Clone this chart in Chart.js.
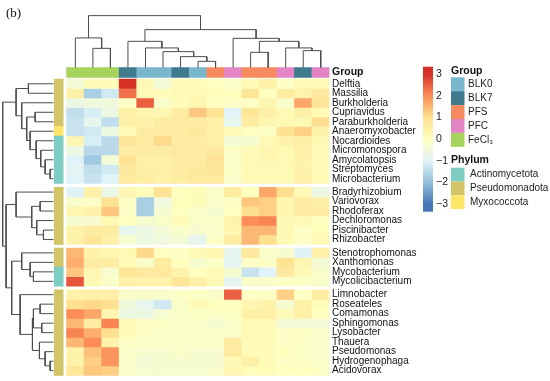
<!DOCTYPE html>
<html>
<head>
<meta charset="utf-8">
<script src="https://cdn.jsdelivr.net/npm/chart.js@4.4.0/dist/chart.umd.min.js"></script>
<style>
  html, body { margin: 0; padding: 0; background: #fff; }
</style>
</head>
<body>
<canvas id="heatmap" width="550" height="381"></canvas>
<script>
const FONT = '"Liberation Sans", Arial, sans-serif';

// rows (genera) in display order, split in 4 clusters
const genera = [
  'Delftia', 'Massilia', 'Burkholderia', 'Cupriavidus', 'Paraburkholderia', 'Anaeromyxobacter',
  'Nocardioides', 'Micromonospora', 'Amycolatopsis', 'Streptomyces', 'Microbacterium',
  'Bradyrhizobium', 'Variovorax', 'Rhodoferax', 'Dechloromonas', 'Piscinibacter', 'Rhizobacter',
  'Stenotrophomonas', 'Xanthomonas', 'Mycobacterium', 'Mycolicibacterium',
  'Limnobacter', 'Roseateles', 'Comamonas', 'Sphingomonas', 'Lysobacter', 'Thauera',
  'Pseudomonas', 'Hydrogenophaga', 'Acidovorax'
];
const blockSizes = [11, 6, 4, 9];

// A = Actinomycetota, P = Pseudomonadota, M = Myxococcota
const rowPhylum = [
  'P', 'P', 'P', 'P', 'P', 'M', 'A', 'A', 'A', 'A', 'A',
  'P', 'P', 'P', 'P', 'P', 'P',
  'P', 'P', 'A', 'A',
  'P', 'P', 'P', 'P', 'P', 'P', 'P', 'P', 'P'
];

// columns (samples) in display order
const sampleGroups = [
  'FeCl3', 'FeCl3', 'FeCl3', 'BLK7', 'BLK0', 'BLK0', 'BLK7', 'BLK0',
  'PFS', 'PFC', 'PFS', 'PFS', 'PFC', 'BLK7', 'PFC'
];

// scaled abundance (z-score), one array per genus
const heat = [
  [-0.4, 0.1, 0.1, 3.3, 0.2, -0.4, 0.2, 0.1, 0.0, -0.2, 0.2, 0.5, -0.1, 0.2, 0.2],
  [0.5, -1.7, -1.2, 2.3, 0.2, 0.1, 0.2, 0.2, 0.1, 0.0, 0.8, 0.0, 0.6, 0.4, 0.7],
  [-0.6, -0.5, -0.5, -0.1, 2.5, -0.2, 0.1, 0.3, 0.0, -0.1, -0.1, 0.3, -0.2, 1.7, 0.8],
  [-1.4, -1.1, -0.6, 0.5, 0.3, 0.3, 0.6, 1.3, 0.9, -1.0, 0.8, 0.5, 0.2, 0.5, 0.2],
  [-1.3, -0.8, -1.4, 0.5, 0.4, 0.6, 0.7, 0.6, 0.5, -0.8, 0.6, 0.3, 0.2, 0.2, 1.0],
  [-1.3, -1.2, -0.6, 0.2, 0.6, 0.6, 0.6, 0.7, 0.5, 0.1, 0.0, -0.1, 0.9, 1.2, 0.4],
  [0.3, -1.1, -1.5, 0.9, 0.6, 1.1, 0.6, 0.6, 0.5, -0.4, -0.3, 0.2, 0.4, 0.5, 0.2],
  [-0.6, -1.5, -1.5, 0.6, 0.6, 0.6, 0.7, 0.6, 0.7, -0.1, 0.1, 0.3, 0.2, 0.5, 0.1],
  [-1.0, -1.8, -0.4, 0.9, 0.5, 0.5, 0.6, 0.6, 0.9, -0.2, 0.2, 0.3, 0.2, 0.4, 0.2],
  [-0.9, -1.4, -1.2, 0.7, 0.5, 0.5, 0.6, 0.7, 0.8, -0.1, 0.2, 0.2, 0.2, 0.4, 0.1],
  [-1.0, -1.3, -1.0, 0.7, 0.6, 0.5, 0.6, 0.7, 0.7, -0.2, 0.2, 0.2, 0.2, 0.5, 0.2],
  [-1.0, 0.5, -0.7, 0.3, 0.1, 0.9, 0.0, 0.1, -0.2, 0.6, 0.0, 1.7, 1.0, 0.2, -0.6],
  [-0.2, -0.1, 0.9, -0.1, -1.7, -0.5, 0.1, 0.1, -0.2, -0.1, 1.3, 1.2, 0.3, 0.6, 0.5],
  [0.3, 0.4, 1.3, -0.1, -1.7, -0.3, 0.0, -0.2, -0.3, 0.0, 1.0, 1.2, 0.3, 0.6, 0.6],
  [-0.3, -0.3, 0.2, 0.0, -0.3, -0.2, 0.1, -0.2, -0.2, 0.4, 2.0, 2.1, 0.2, 0.2, 0.0],
  [0.4, 0.6, 0.6, -0.8, -0.6, -0.4, -0.2, -0.3, -0.2, 0.3, 1.5, 1.5, 0.2, -0.1, 0.1],
  [0.4, 0.8, 0.5, -0.3, -0.6, -0.5, -0.4, -0.8, -0.1, 0.6, 1.5, 1.0, 0.2, -0.1, 0.2],
  [1.5, 0.4, 0.3, 0.2, 1.1, 0.0, -0.1, 0.2, 0.3, -0.8, 0.7, -0.2, -0.3, -1.0, 0.5],
  [1.6, 0.6, 0.6, 0.1, -0.2, 0.6, 0.0, -0.3, -0.1, -0.9, -0.1, -0.1, 0.9, 0.3, -0.4],
  [1.3, 0.3, -0.3, 0.8, 0.7, 0.7, 0.4, 0.0, 0.2, -0.3, -1.3, -1.0, 0.7, 0.2, -0.2],
  [2.6, 0.2, -0.2, 0.5, 0.4, 0.4, 0.8, 0.5, 0.2, -0.9, -0.2, -0.2, -0.1, -0.1, -0.2],
  [0.4, 0.5, 0.5, -0.2, -0.2, -0.2, -0.1, -0.1, -0.2, 2.5, -0.1, -0.1, 1.2, -0.1, 0.6],
  [1.0, 1.1, 1.0, -0.5, -0.8, -1.2, -0.2, 0.2, 0.0, 0.0, 0.3, 0.4, -0.3, 0.5, 0.1],
  [2.0, 1.7, 0.3, -0.6, -0.6, -0.3, -0.2, -0.1, -0.1, -0.1, 0.5, 0.5, 0.1, 0.5, 0.0],
  [1.5, 0.6, 2.1, 0.1, -0.1, -0.1, -0.2, -0.2, -0.3, -0.2, 0.2, 0.2, -0.4, -0.4, -0.4],
  [2.1, 1.6, 1.0, 0.1, -0.1, -0.2, -0.2, -0.2, -0.2, -0.2, 0.2, 0.1, -0.1, -0.1, -0.2],
  [1.5, 2.0, 0.4, -0.1, -0.2, -0.2, -0.2, -0.2, -0.2, 0.6, 0.1, 0.1, -0.1, -0.1, -0.2],
  [0.4, 1.4, 1.9, -0.2, -0.3, -0.3, -0.2, -0.3, -0.3, 0.7, 0.1, 0.1, 0.0, -0.1, -0.2],
  [0.4, 1.2, 1.9, -0.2, -0.4, -0.3, -0.3, -0.3, -0.3, 0.2, 0.5, 0.1, -0.1, -0.1, -0.2],
  [0.8, 1.3, 1.2, -0.2, -0.3, -0.3, -0.3, -0.3, -0.2, 0.3, 0.1, 0.1, 0.0, 0.0, -0.1]
];

// column clustering: [left node, right node, height]; new nodes numbered from 15
const colLinks = [
  [7, 8, 6.3], [6, 15, 11], [5, 16, 16], [4, 17, 19.7], [3, 18, 26.3],
  [10, 11, 15.3], [13, 14, 17], [12, 21, 19.7], [20, 22, 26.3], [9, 23, 29.3],
  [19, 24, 38], [1, 2, 19.3], [0, 26, 29.7], [27, 25, 52]
];

// row clustering: new nodes numbered from 30
const rowLinks = [
  [0, 1, 25], [3, 4, 18.3], [9, 10, 3.3], [8, 32, 8.3], [7, 33, 12.7],
  [6, 34, 17.3], [5, 35, 23.3], [31, 36, 26.7], [2, 37, 31.7], [30, 38, 37.3],
  [12, 13, 13.3], [15, 16, 10], [14, 41, 16.7], [40, 42, 21.7], [11, 43, 37.3],
  [19, 20, 20], [18, 45, 23.3], [17, 46, 31.7],
  [22, 23, 13.3], [24, 25, 11.7], [48, 49, 20], [28, 29, 3.3], [27, 51, 8.3],
  [26, 52, 14], [50, 53, 21], [21, 54, 33.3],
  [47, 55, 41.7], [44, 56, 47.3], [39, 57, 50.7]
];

const colorbarTicks = [3, 2, 1, 0, -1, -2, -3];
const groupNames = ['BLK0', 'BLK7', 'PFS', 'PFC', 'FeCl3'];
const groupLabels = ['BLK0', 'BLK7', 'PFS', 'PFC', 'FeCl\u2083'];
const phylumKeys = ['A', 'P', 'M'];
const phylumLabels = ['Actinomycetota', 'Pseudomonadota', 'Myxococcota'];

const groupColors = { BLK0: '#78b7cc', BLK7: '#3f7a8f', PFS: '#f88a5f', PFC: '#e385c5', FeCl3: '#a6d35b' };
const phylumColors = { A: '#7dcdc3', P: '#d3c468', M: '#fce567' };
// RdYlBu (7) from low (-3) to high (+3), one step per unit
const palette = ['#4575b4', '#91bfdb', '#e0f3f8', '#ffffbf', '#fee090', '#fc8d59', '#d73027'];
const paletteStep = 1;
const keyLimit = 3.35;

function hexRgb(h) {
  return [1, 3, 5].map(i => parseInt(h.slice(i, i + 2), 16));
}
function colorFor(v) {
  const half = (palette.length - 1) / 2;
  let t = v / paletteStep + half;
  t = Math.max(0, Math.min(palette.length - 1, t));
  const i = Math.min(Math.floor(t), palette.length - 2);
  const f = t - i;
  const a = hexRgb(palette[i]), b = hexRgb(palette[i + 1]);
  const c = a.map((x, k) => Math.round(x + (b[k] - x) * f));
  return 'rgb(' + c.join(',') + ')';
}

// layout in axis units: one column = 1 on x, one row = 1 on y
const blockGap = 0.4;
const rowTop = [];
let count = 0;
blockSizes.forEach((n, b) => {
  for (let k = 0; k < n; k++) {
    rowTop.push(count + b * blockGap);
    count++;
  }
});
const rowMid = rowTop.map(t => t + 0.5);
const groupBar = [-1.2, -0.18];
const topBase = -1.2, topUnit = 1 / 9.5;
const leftBase = -1.25, leftUnit = 1 / 17.5;
const phylumX = -0.95;

function dendro(links, leafPos) {
  const pos = leafPos.slice();
  const hgt = leafPos.map(() => 0);
  const segs = [];
  links.forEach(([a, b, h]) => {
    segs.push([[pos[a], hgt[a]], [pos[a], h], [pos[b], h], [pos[b], hgt[b]]]);
    pos.push((pos[a] + pos[b]) / 2);
    hgt.push(h);
  });
  return segs;
}

const lineStyle = {
  type: 'line', borderColor: '#4d4d4d', borderWidth: 1, pointRadius: 0,
  fill: false, tension: 0, order: 0
};
const colSegs = dendro(colLinks, sampleGroups.map((g, c) => c)).map(seg => ({
  ...lineStyle,
  data: seg.map(([p, h]) => ({ x: p, y: topBase - h * topUnit }))
}));
const rowSegs = dendro(rowLinks, rowMid).map(seg => ({
  ...lineStyle,
  data: seg.map(([p, h]) => ({ x: leftBase - h * leftUnit, y: p }))
}));

const barBase = { type: 'bar', grouped: false, barPercentage: 1, categoryPercentage: 1, borderWidth: 0, order: 1 };

const heatSets = heat.map((vals, r) => ({
  ...barBase,
  label: genera[r],
  data: vals.map((v, c) => ({ x: c, y: [rowTop[r], rowTop[r] + 1] })),
  backgroundColor: vals.map(colorFor)
}));

const groupSet = {
  ...barBase,
  label: 'Group',
  data: sampleGroups.map((g, c) => ({ x: c, y: groupBar })),
  backgroundColor: sampleGroups.map(g => groupColors[g])
};

const phylumSet = {
  ...barBase,
  label: 'Phylum',
  xAxisID: 'xp',
  barThickness: 9,
  data: rowTop.map(t => ({ x: phylumX, y: [t, t + 1] })),
  backgroundColor: rowPhylum.map(p => phylumColors[p])
};

const yTickValues = [(groupBar[0] + groupBar[1]) / 2, ...rowMid];
const yTickLabels = ['Group', ...genera];

const sideLegends = {
  id: 'sideLegends',
  afterDraw(chart) {
    const ctx = chart.ctx;
    ctx.save();
    // panel tag
    ctx.fillStyle = '#111';
    ctx.font = '13px "Liberation Serif", "Times New Roman", serif';
    ctx.textBaseline = 'middle';
    ctx.textAlign = 'left';
    ctx.fillText('(b)', 6, 14);

    // colour key
    const cbX = 423, cbW = 10, cbTop = 66.7, cbBottom = 211.7;
    const cbMid = (cbTop + cbBottom) / 2;
    const cbUnit = (cbBottom - cbTop) / (2 * keyLimit);
    const grad = ctx.createLinearGradient(0, cbTop, 0, cbBottom);
    const half = (palette.length - 1) / 2;
    palette.forEach((c, i) => {
      const v = (i - half) * paletteStep;
      grad.addColorStop((keyLimit - v) / (2 * keyLimit), c);
    });
    ctx.fillStyle = grad;
    ctx.fillRect(cbX, cbTop, cbW, cbBottom - cbTop);
    ctx.fillStyle = '#222';
    ctx.font = '10.5px ' + FONT;
    colorbarTicks.forEach(v => {
      ctx.fillText(String(v).replace('-', '\u2212'), 436, cbMid - v * cbUnit);
    });

    // group key
    const lx = 451, bw = 13.5, bh = 13.9;
    ctx.font = 'bold 10.5px ' + FONT;
    ctx.fillStyle = '#111';
    ctx.fillText('Group', lx, 71);
    groupNames.forEach((g, i) => {
      const y = 77.3 + i * bh;
      ctx.fillStyle = groupColors[g];
      ctx.fillRect(lx, y, bw, bh);
      ctx.fillStyle = '#222';
      ctx.font = '10px ' + FONT;
      ctx.fillText(groupLabels[i], lx + 17, y + bh / 2);
    });

    // phylum key
    ctx.font = 'bold 10.5px ' + FONT;
    ctx.fillStyle = '#111';
    ctx.fillText('Phylum', lx, 160.5);
    phylumKeys.forEach((p, i) => {
      const y = 167.7 + i * 13.8;
      ctx.fillStyle = phylumColors[p];
      ctx.fillRect(lx, y, bw, 13.8);
      ctx.fillStyle = '#222';
      ctx.font = '10px ' + FONT;
      ctx.fillText(phylumLabels[i], lx + 19, y + 6.9);
    });
    ctx.restore();
  }
};

const xRange = { min: -4.3, max: 14.5 };

new Chart(document.getElementById('heatmap').getContext('2d'), {
  type: 'bar',
  data: { datasets: [...heatSets, groupSet, phylumSet, ...colSegs, ...rowSegs] },
  options: {
    responsive: false,
    animation: false,
    devicePixelRatio: 1,
    layout: { padding: { left: 0, top: 0, bottom: 0, right: 130.5 } },
    plugins: { legend: { display: false }, tooltip: { enabled: false } },
    scales: {
      x: { type: 'linear', ...xRange, display: false, offset: false, bounds: 'data', grid: { offset: false } },
      xp: { type: 'linear', axis: 'x', position: 'bottom', ...xRange, display: false, offset: false, bounds: 'data', grid: { offset: false } },
      y: {
        type: 'linear',
        position: 'right',
        reverse: true,
        min: -8.32,
        max: 31.79,
        bounds: 'data',
        offset: false,
        grid: { display: false, drawTicks: false },
        border: { display: false },
        afterBuildTicks: scale => {
          scale.ticks = yTickValues.map(v => ({ value: v }));
        },
        afterFit: scale => {
          scale.width = 90;
          scale.paddingTop = 0;
          scale.paddingBottom = 0;
        },
        ticks: {
          autoSkip: false,
          padding: 2.5,
          color: '#111',
          callback: (value, index) => yTickLabels[index],
          font: c => ({ family: FONT, size: c.index === 0 ? 10.5 : 10, weight: c.index === 0 ? 'bold' : 'normal' })
        }
      }
    }
  },
  plugins: [sideLegends]
});
</script>
</body>
</html>
